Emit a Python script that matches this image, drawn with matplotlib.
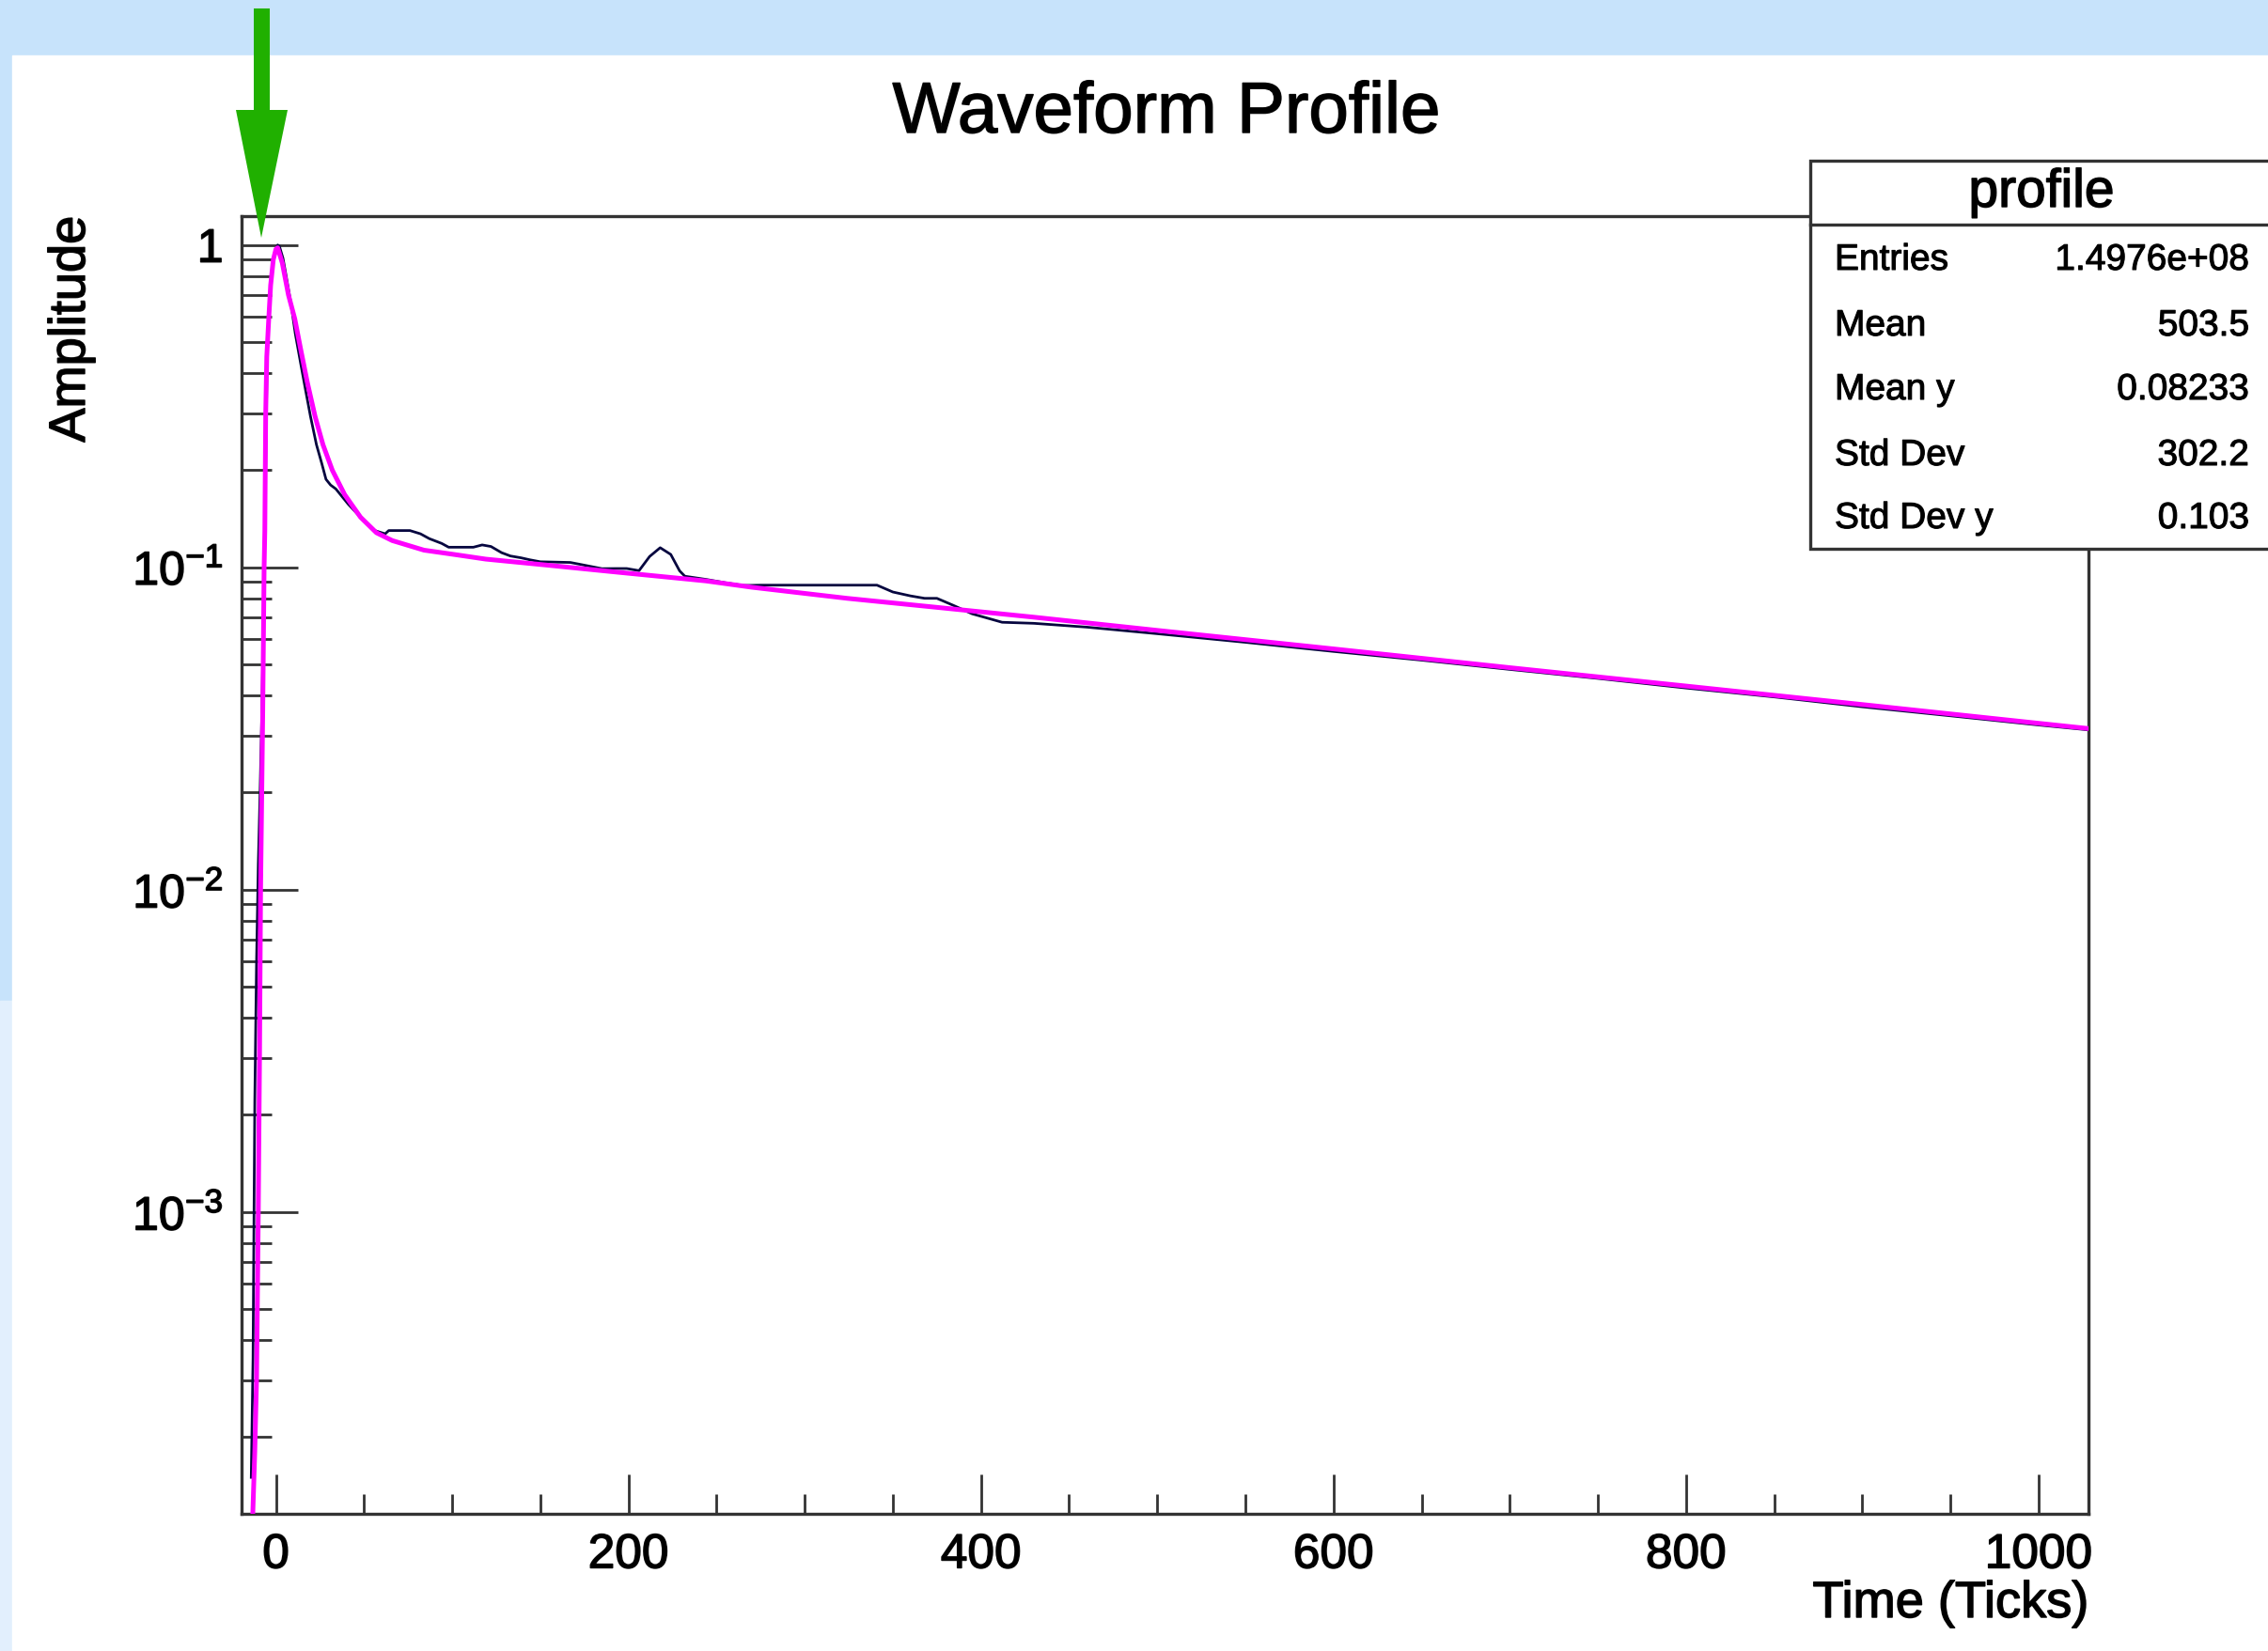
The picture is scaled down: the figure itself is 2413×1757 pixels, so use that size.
import matplotlib
matplotlib.use('Agg')
import matplotlib.pyplot as plt
import matplotlib.patheffects as pe
from matplotlib.patches import Rectangle, Polygon
from matplotlib.lines import Line2D
from matplotlib.ticker import LogLocator, NullFormatter, MultipleLocator

plt.rcParams['font.family'] = ['Liberation Sans', 'DejaVu Sans']
plt.rcParams['mathtext.fontset'] = 'custom'
plt.rcParams['mathtext.rm'] = 'Liberation Sans'
plt.rcParams['mathtext.it'] = 'Liberation Sans:italic'

# profile means per time tick
prof_x = [-14, -13, -12, -11, -10, -9, -8, -7, -6, -5, -4, -3, -2, -1, 0, 1, 2, 4, 6, 8.5,
          11, 14, 17, 19.6, 23, 26, 28.4, 31, 34, 41, 48, 56, 62, 64, 70, 76, 82, 87, 94, 98,
          112, 117, 122, 128, 133, 139, 144, 150, 157, 167, 175, 185, 193, 199, 206, 212, 218,
          224, 229, 232, 244, 255, 265, 275, 300, 320, 341, 350, 360, 368, 375, 384, 395, 412,
          430, 460, 500, 550, 600, 650, 700, 750, 800, 850, 900, 950, 1000, 1028]
prof_y = [1.5e-4, 3.5e-4, 2.2e-3, 6e-3, 0.012, 0.02, 0.035, 0.07, 0.17, 0.45, 0.6, 0.75, 0.85,
          0.92, 0.97, 1.0, 0.99, 0.91, 0.79, 0.66, 0.53, 0.43, 0.35, 0.294, 0.24, 0.21, 0.1875,
          0.18, 0.175, 0.157, 0.143, 0.130, 0.127, 0.130, 0.130, 0.130, 0.127, 0.1227, 0.1186,
          0.1154, 0.1154, 0.1173, 0.116, 0.111, 0.1084, 0.107, 0.1055, 0.104, 0.1038, 0.1035,
          0.1015, 0.099, 0.0991, 0.0991, 0.0976, 0.108, 0.115, 0.1096, 0.0975, 0.0938, 0.0917,
          0.0895, 0.0878, 0.088, 0.088, 0.088, 0.088, 0.0838, 0.0815, 0.0801, 0.0801, 0.0763,
          0.0717, 0.0675, 0.067, 0.0652, 0.0622, 0.0585, 0.0548, 0.0515, 0.0482, 0.0452, 0.0422,
          0.0396, 0.0369, 0.0346, 0.0324, 0.0313]

# fitted pulse shape (magenta curve)
fit_x = [-13.5, -12, -11, -10, -9.3, -8.7, -7.5, -6.7, -6.3, -5.8, -5.2, -4.0, -3.0, -1.5, 0, 1,
         3.6, 7.1, 10.7, 14.2, 17.8, 22.2, 26.7, 32, 39, 48, 57, 66, 84, 101, 119, 155, 190,
         244, 270, 324, 377, 430, 500, 600, 700, 800, 900, 1000, 1028]
fit_y = [1.0e-4, 1.8e-4, 3e-4, 1e-3, 3e-3, 0.01, 0.035, 0.1, 0.13, 0.3, 0.45, 0.6, 0.75, 0.9,
         0.97, 0.98, 0.88, 0.70, 0.59, 0.47, 0.375, 0.294, 0.24, 0.20, 0.168, 0.143, 0.128,
         0.121, 0.113, 0.1096, 0.106, 0.1014, 0.097, 0.0907, 0.0867, 0.0801, 0.0749, 0.070,
         0.0637, 0.0558, 0.0488, 0.0428, 0.0375, 0.0328, 0.0316]

x_ticks = [0, 200, 400, 600, 800, 1000]
y_ticks = [1, 1e-1, 1e-2, 1e-3]
y_tick_labels = ['1', r'$\mathregular{10^{-1}}$', r'$\mathregular{10^{-2}}$', r'$\mathregular{10^{-3}}$']

stat_names = ['Entries', 'Mean', 'Mean y', 'Std Dev', 'Std Dev y']
stat_values = ['1.4976e+08', '503.5', '0.08233', '302.2', '0.103']

W, H = 2413, 1757
fig = plt.figure(figsize=(W / 100, H / 100), dpi=100, facecolor='#c7e3fb')
bold = [pe.withStroke(linewidth=1.1, foreground='#111111')]


def fx(px):
    return px / W


def fy(py):
    return 1 - py / H


tf = fig.transFigure
# screenshot backdrop: lighter strip at lower left, white canvas
fig.add_artist(Rectangle((0, 0), fx(14), fy(1065), transform=tf, color='#e2effd', zorder=-20))
fig.add_artist(Rectangle((fx(13), 0), 1, fy(59), transform=tf, color='white', zorder=-10))

ax = fig.add_axes([fx(257), fy(1611), fx(2222 - 257), (1611 - 230) / H])
ax.set_yscale('log')
ax.set_xlim(-19.5, 1028.3)
ax.set_ylim(1.156e-4, 1.229)

ax.plot(prof_x, prof_y, color='#06063f', lw=2.0, zorder=2)
ax.plot(fit_x, fit_y, color='#ff00ff', lw=3.6, solid_joinstyle='round', zorder=3)

ax.set_xticks(x_ticks)
ax.set_xticklabels([str(v) for v in x_ticks])
ax.xaxis.set_minor_locator(MultipleLocator(50))
ax.set_yticks(y_ticks)
ax.set_yticklabels(y_tick_labels)
ax.yaxis.set_minor_locator(LogLocator(base=10, subs=range(2, 10), numticks=50))
ax.yaxis.set_minor_formatter(NullFormatter())

ax.tick_params(axis='x', which='major', direction='in', length=30, width=2.0,
               labelsize=37, pad=14, top=False, color='#333333')
ax.tick_params(axis='x', which='minor', direction='in', length=15, width=2.0,
               top=False, color='#333333')
ax.tick_params(axis='y', which='major', direction='in', length=43, width=2.0,
               labelsize=36, pad=14, right=False, color='#333333')
ax.tick_params(axis='y', which='minor', direction='in', length=23, width=2.0,
               right=False, color='#333333')
for s in ax.spines.values():
    s.set_linewidth(2.4)
    s.set_color('#333333')
for lab in ax.get_xticklabels() + ax.get_yticklabels():
    lab.set_path_effects(bold)

fig.text(fx(1241), fy(141), 'Waveform Profile', fontsize=55, ha='center', va='baseline',
         path_effects=bold)
fig.text(fx(2222), fy(1721), 'Time (Ticks)', fontsize=39, ha='right', va='baseline',
         path_effects=bold)
fig.text(fx(76), fy(230), 'Amplitude', fontsize=39, rotation=90, ha='center', va='top',
         path_effects=bold)

# stats box
fig.add_artist(Rectangle((fx(1926), fy(584)), fx(2418 - 1926), (584 - 171) / H, transform=tf,
                         facecolor='white', edgecolor='#333333', lw=2.4, zorder=5))
fig.add_artist(Line2D([fx(1926), fx(2418)], [fy(239), fy(239)], transform=tf,
                      color='#333333', lw=2.4, zorder=6))
fig.text(fx(2172), fy(205), 'profile', fontsize=41, ha='center', va='center', zorder=7,
         path_effects=bold)
row_base = [287, 357, 425, 495, 562]
for name, val, yb in zip(stat_names, stat_values, row_base):
    fig.text(fx(1952), fy(yb), name, fontsize=28, ha='left', va='baseline', zorder=7,
             path_effects=[pe.withStroke(linewidth=0.8, foreground='#111111')])
    fig.text(fx(2393), fy(yb), val, fontsize=28, ha='right', va='baseline', zorder=7,
             path_effects=[pe.withStroke(linewidth=0.8, foreground='#111111')])

# green marker arrow
arrow = [(270, 9), (287, 9), (287, 117), (306, 117), (278, 253), (251, 117), (270, 117)]
fig.add_artist(Polygon([(fx(a), fy(b)) for a, b in arrow], closed=True, transform=tf,
                       facecolor='#20b000', edgecolor='none', zorder=10))

fig.savefig('out.png', dpi=100, facecolor=fig.get_facecolor())
